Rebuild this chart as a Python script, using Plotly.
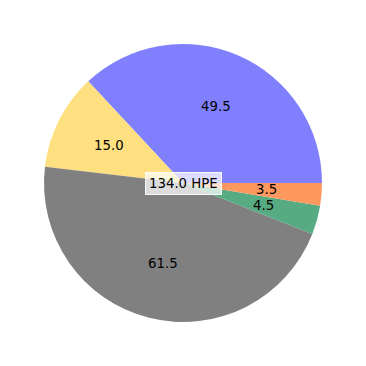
import math
import plotly.graph_objects as go

labels = ["A", "B", "C", "D", "E"]
values = [49.5, 15.0, 61.5, 4.5, 3.5]
colors = ["#8080ff", "#ffe080", "#808080", "#56ab82", "#ff985f"]
center_text = "134.0 HPE"

W = 366
cx, cy = 183 / W, 1 - 183 / W
R = 139 / W
total = sum(values)

fig = go.Figure(go.Pie(
    labels=labels, values=values, sort=False,
    direction="counterclockwise", rotation=90 - values[0] / total * 360,
    marker=dict(colors=colors, line=dict(width=0)),
    textinfo="none", hoverinfo="label+value",
    domain=dict(x=[cx - R, cx + R], y=[cy - R, cy + R]),
    showlegend=False,
))

ann = []
start = 0.0
for v in values:
    mid = math.radians((start + v / 2) / total * 360)
    start += v
    ann.append(dict(
        x=cx + 0.6 * R * math.cos(mid), y=cy + 0.6 * R * math.sin(mid),
        xref="paper", yref="paper", text=f"{v:.1f}", showarrow=False,
        font=dict(family="DejaVu Sans", size=13.3, color="black"),
        xanchor="center", yanchor="middle",
    ))
ann.append(dict(
    x=cx, y=cy, xref="paper", yref="paper", text=center_text, showarrow=False,
    font=dict(family="DejaVu Sans", size=13.3, color="black"),
    bgcolor="rgba(255,255,255,0.72)", bordercolor="rgba(255,255,255,0.9)",
    borderwidth=1, borderpad=3, xanchor="center", yanchor="middle",
))

fig.update_layout(
    width=W, height=W, margin=dict(l=0, r=0, t=0, b=0),
    paper_bgcolor="white", plot_bgcolor="white",
    annotations=ann,
)
fig.write_html("out.html")
